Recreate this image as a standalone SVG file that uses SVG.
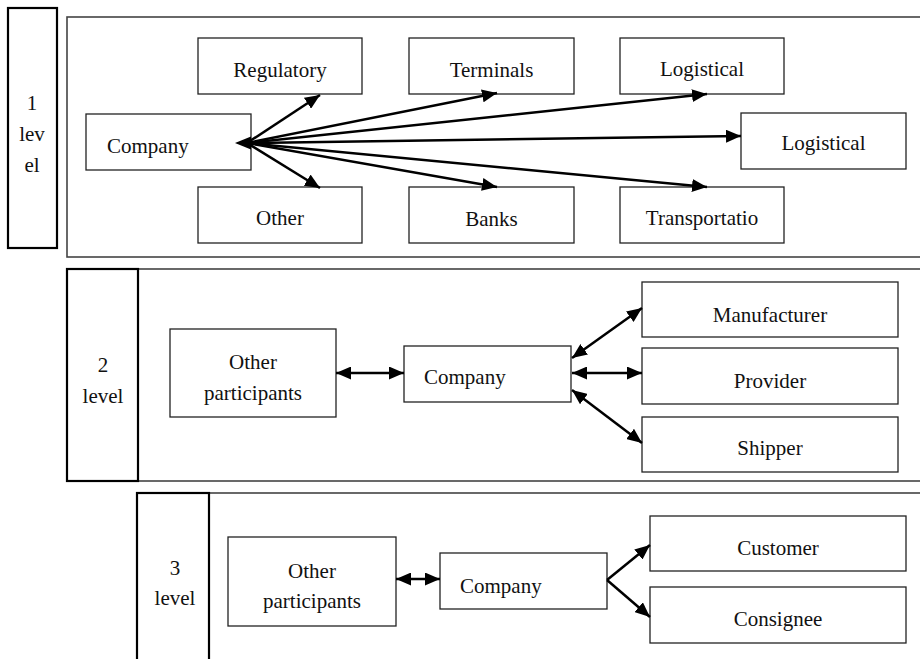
<svg xmlns="http://www.w3.org/2000/svg" width="920" height="659" viewBox="0 0 920 659">
<style>
  .lvl { fill: none; stroke: #444; stroke-width: 1.6; }
  .side { fill: none; stroke: #000; stroke-width: 2.2; }
  .node { fill: #fff; stroke: #222; stroke-width: 1.3; }
  text { font-family: 'Liberation Serif', 'Times New Roman', Times, serif; font-size: 21px; fill: #111; }
  .c { text-anchor: middle; }
  .ln { stroke: #000; stroke-width: 2.5; fill: none; }
</style>
<defs>
  <marker id="ah" markerUnits="userSpaceOnUse" markerWidth="16" markerHeight="13" refX="15" refY="6.5" orient="auto-start-reverse">
    <path d="M0,0 L15,6.5 L0,13 z" fill="#000"/>
  </marker>
</defs>
<rect width="920" height="659" fill="#fff"/>

<g font-family="Liberation Serif, serif" font-size="21">
<!-- Level frames -->
<g id="level1">
  <rect class="lvl" x="67" y="17" width="870" height="240"/>
  <rect class="side" x="8" y="8" width="49" height="240"/>
  <text class="c" x="32" y="110">1</text>
  <text class="c" x="32" y="141">lev</text>
  <text class="c" x="32" y="172">el</text>
</g>
<g id="level2">
  <rect class="lvl" x="67" y="269" width="870" height="212"/>
  <rect class="side" x="67" y="269" width="71" height="212"/>
  <text class="c" x="103" y="372">2</text>
  <text class="c" x="103" y="403">level</text>
</g>
<g id="level3">
  <rect class="lvl" x="209" y="493" width="730" height="200"/>
  <rect class="side" x="137" y="493" width="72" height="200"/>
  <text class="c" x="175" y="575">3</text>
  <text class="c" x="175" y="605">level</text>
</g>

<!-- Level 1 nodes -->
<g id="l1-company"><rect class="node" x="86" y="114" width="165" height="56"/><text x="107" y="153">Company</text></g>
<g id="l1-regulatory"><rect class="node" x="198" y="38" width="164" height="56"/><text class="c" x="280" y="77">Regulatory</text></g>
<g id="l1-other"><rect class="node" x="198" y="187" width="164" height="56"/><text class="c" x="280" y="225">Other</text></g>
<g id="l1-terminals"><rect class="node" x="409" y="38" width="165" height="56"/><text class="c" x="491.5" y="77">Terminals</text></g>
<g id="l1-banks"><rect class="node" x="409" y="187" width="165" height="56"/><text class="c" x="491.5" y="226">Banks</text></g>
<g id="l1-logistical-top"><rect class="node" x="620" y="38" width="164" height="56"/><text class="c" x="702" y="76">Logistical</text></g>
<g id="l1-transportation"><rect class="node" x="620" y="187" width="164" height="56"/><text class="c" x="702" y="225">Transportatio</text></g>
<g id="l1-logistical-right"><rect class="node" x="741" y="113" width="165" height="56"/><text class="c" x="823.5" y="150">Logistical</text></g>

<!-- Level 2 nodes -->
<g id="l2-other"><rect class="node" x="170" y="329" width="166" height="88"/><text class="c" x="253" y="369">Other</text><text class="c" x="253" y="400">participants</text></g>
<g id="l2-company"><rect class="node" x="404" y="346" width="167" height="56"/><text x="424" y="384">Company</text></g>
<g id="l2-manufacturer"><rect class="node" x="642" y="282" width="256" height="55"/><text class="c" x="770" y="322">Manufacturer</text></g>
<g id="l2-provider"><rect class="node" x="642" y="348" width="256" height="56"/><text class="c" x="770" y="388">Provider</text></g>
<g id="l2-shipper"><rect class="node" x="642" y="417" width="256" height="55"/><text class="c" x="770" y="455">Shipper</text></g>

<!-- Level 3 nodes -->
<g id="l3-other"><rect class="node" x="228" y="537" width="168" height="89"/><text class="c" x="312" y="578">Other</text><text class="c" x="312" y="608">participants</text></g>
<g id="l3-company"><rect class="node" x="440" y="553" width="167" height="56"/><text x="460" y="593">Company</text></g>
<g id="l3-customer"><rect class="node" x="650" y="516" width="256" height="55"/><text class="c" x="778" y="555">Customer</text></g>
<g id="l3-consignee"><rect class="node" x="650" y="587" width="256" height="56"/><text class="c" x="778" y="626">Consignee</text></g>
</g>

<!-- Connectors -->
<g id="connectors">
  <polygon points="235,143 251,136.5 251,149.5" fill="#000"/>
  <line class="ln" x1="247" y1="143" x2="320" y2="95" marker-end="url(#ah)"/>
  <line class="ln" x1="247" y1="143" x2="320" y2="188" marker-end="url(#ah)"/>
  <line class="ln" x1="247" y1="143" x2="497" y2="93" marker-end="url(#ah)"/>
  <line class="ln" x1="247" y1="143" x2="707" y2="94" marker-end="url(#ah)"/>
  <line class="ln" x1="247" y1="143" x2="741" y2="136" marker-end="url(#ah)"/>
  <line class="ln" x1="247" y1="143" x2="497" y2="187" marker-end="url(#ah)"/>
  <line class="ln" x1="247" y1="143" x2="707" y2="187" marker-end="url(#ah)"/>

  <line class="ln" x1="336" y1="373" x2="404" y2="373" marker-start="url(#ah)" marker-end="url(#ah)"/>
  <line class="ln" x1="572" y1="358" x2="642" y2="308" marker-start="url(#ah)" marker-end="url(#ah)"/>
  <line class="ln" x1="572" y1="373" x2="642" y2="373" marker-start="url(#ah)" marker-end="url(#ah)"/>
  <line class="ln" x1="572" y1="390" x2="642" y2="443" marker-start="url(#ah)" marker-end="url(#ah)"/>

  <line class="ln" x1="396" y1="579" x2="440" y2="579" marker-start="url(#ah)" marker-end="url(#ah)"/>
  <line class="ln" x1="607" y1="580" x2="650" y2="545" marker-end="url(#ah)"/>
  <line class="ln" x1="607" y1="580" x2="650" y2="617" marker-end="url(#ah)"/>
</g>
</svg>
